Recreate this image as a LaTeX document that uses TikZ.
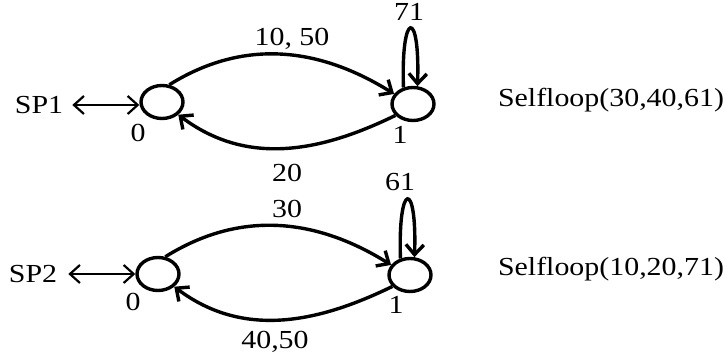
\documentclass[tikz,border=0pt]{standalone}
\usepackage{fontspec}
\setmainfont{Liberation Serif}[FakeStretch=1.15]
\usetikzlibrary{arrows.meta,shapes.geometric}
\def\tip{Straight Barb[length=10pt,width=18pt]}
\tikzset{
    state/.style = {draw, ellipse, line width=3.4pt, minimum width=42pt, minimum height=33pt, inner sep=0pt},
    txt/.style = {font=\fontsize{26}{30}\selectfont, inner sep=0pt},
    arc/.style = {line width=3.4pt, -{\tip}},
    port/.style = {line width=2.2pt, {\tip}-{\tip}}
}

\begin{document}
\begin{tikzpicture}[x=1pt, y=1pt]
    \useasboundingbox (0,0) rectangle (725,361);
    % upper machine
    \node[state] (a0) at (162,259) {};
    \node[state] (a1) at (413,257) {};
    \node[txt] (sp1) at (39,256) {SP1};
    \node[txt] (a0lbl) at (138,228) {0};
    \node[txt] (a1lbl) at (400,226) {1};
    \node[txt] (a01) at (292,322) {10, 50};
    \node[txt] (a10) at (287,188) {20};
    \node[txt] (a11) at (409,349) {71};
    \node[txt] (selfa) at (611,261) {Selfloop(30,40,61)};
    \draw[port] ([xshift=9pt]sp1.east) -- (sp1.east -| a0.west);
    \draw[arc] (a0.67) to[out=32, in=148] (a1.152);
    \draw[arc] (a1.213) to[out=206, in=323] (a0.322);
    \draw[arc] (a1.120) to[out=92, in=88, distance=78pt] (a1.76);
    % lower machine
    \node[state] (b0) at (158,87) {};
    \node[state] (b1) at (410,86) {};
    \node[txt] (sp2) at (33,87) {SP2};
    \node[txt] (b0lbl) at (133,59) {0};
    \node[txt] (b1lbl) at (396,56) {1};
    \node[txt] (b01) at (287,152) {30};
    \node[txt] (b10) at (275,19) {40,50};
    \node[txt] (b11) at (400,179) {61};
    \node[txt] (selfb) at (611,92) {Selfloop(10,20,71)};
    \draw[port] ([xshift=11pt]sp2.east) -- (sp2.east -| b0.west);
    \draw[arc] (b0.67) to[out=32, in=148] (b1.152);
    \draw[arc] (b1.213) to[out=206, in=323] (b0.322);
    \draw[arc] (b1.120) to[out=92, in=88, distance=78pt] (b1.76);
\end{tikzpicture}
\end{document}
